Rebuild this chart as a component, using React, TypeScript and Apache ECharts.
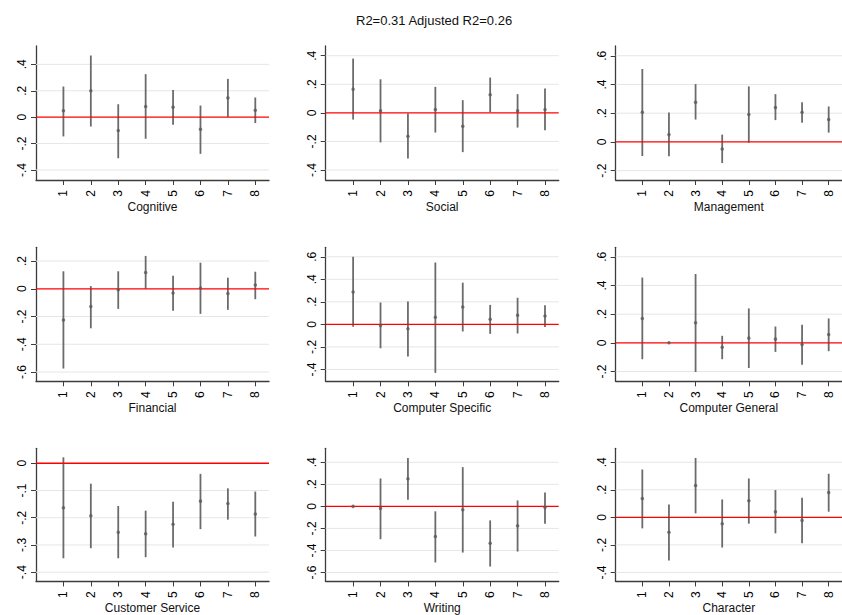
import React, { useEffect, useRef } from "react";
import * as echarts from "echarts";

const TITLE = "R2=0.31 Adjusted R2=0.26";
const CATEGORIES = [1, 2, 3, 4, 5, 6, 7, 8];
const PANEL_NAMES = [
  "Cognitive", "Social", "Management",
  "Financial", "Computer Specific", "Computer General",
  "Customer Service", "Writing", "Character",
];

const cognitiveEst = [0.048, 0.2, -0.101, 0.081, 0.076, -0.091, 0.146, 0.053];
const cognitiveLo = [-0.146, -0.071, -0.311, -0.164, -0.058, -0.278, 0.002, -0.045];
const cognitiveHi = [0.232, 0.467, 0.098, 0.326, 0.205, 0.088, 0.29, 0.149];

const socialEst = [0.166, 0.014, -0.163, 0.023, -0.093, 0.126, 0.014, 0.023];
const socialLo = [-0.047, -0.207, -0.319, -0.138, -0.275, 0.005, -0.103, -0.121];
const socialHi = [0.38, 0.235, -0.005, 0.182, 0.089, 0.247, 0.131, 0.17];

const managementEst = [0.207, 0.051, 0.277, -0.049, 0.191, 0.24, 0.207, 0.156];
const managementLo = [-0.098, -0.1, 0.156, -0.147, -0.005, 0.152, 0.133, 0.065];
const managementHi = [0.508, 0.205, 0.403, 0.051, 0.387, 0.333, 0.277, 0.247];

const financialEst = [-0.225, -0.128, -0.007, 0.118, -0.031, 0.005, -0.034, 0.027];
const financialLo = [-0.575, -0.285, -0.145, 0.0, -0.159, -0.181, -0.152, -0.075];
const financialHi = [0.126, 0.019, 0.126, 0.237, 0.094, 0.188, 0.08, 0.123];

const compSpecificEst = [0.287, -0.009, -0.039, 0.063, 0.155, 0.045, 0.081, 0.075];
const compSpecificLo = [-0.021, -0.212, -0.284, -0.43, -0.063, -0.084, -0.081, -0.024];
const compSpecificHi = [0.6, 0.194, 0.203, 0.549, 0.37, 0.173, 0.236, 0.17];

const compGeneralEst = [0.17, 0.0, 0.14, -0.03, 0.033, 0.026, -0.012, 0.058];
const compGeneralLo = [-0.114, 0.0, -0.203, -0.114, -0.175, -0.063, -0.152, -0.058];
const compGeneralHi = [0.455, 0.0, 0.48, 0.049, 0.24, 0.114, 0.126, 0.17];

const customerEst = [-0.163, -0.193, -0.253, -0.259, -0.224, -0.139, -0.148, -0.186];
const customerLo = [-0.349, -0.312, -0.349, -0.345, -0.309, -0.242, -0.207, -0.269];
const customerHi = [0.022, -0.075, -0.157, -0.174, -0.141, -0.039, -0.092, -0.104];

const writingEst = [0.0, -0.018, 0.25, -0.274, -0.03, -0.335, -0.175, -0.009];
const writingLo = [0.0, -0.298, 0.06, -0.509, -0.419, -0.546, -0.41, -0.157];
const writingHi = [0.0, 0.253, 0.44, -0.045, 0.356, -0.127, 0.054, 0.127];

const characterEst = [0.137, -0.108, 0.231, -0.046, 0.12, 0.041, -0.022, 0.181];
const characterLo = [-0.08, -0.313, 0.029, -0.219, -0.046, -0.116, -0.188, 0.041];
const characterHi = [0.347, 0.094, 0.431, 0.13, 0.282, 0.198, 0.142, 0.316];

const EST = [cognitiveEst, socialEst, managementEst, financialEst, compSpecificEst, compGeneralEst, customerEst, writingEst, characterEst];
const LO = [cognitiveLo, socialLo, managementLo, financialLo, compSpecificLo, compGeneralLo, customerLo, writingLo, characterLo];
const HI = [cognitiveHi, socialHi, managementHi, financialHi, compSpecificHi, compGeneralHi, customerHi, writingHi, characterHi];

const Y_TICKS = [
  [-0.4, -0.2, 0, 0.2, 0.4],
  [-0.4, -0.2, 0, 0.2, 0.4],
  [-0.2, 0, 0.2, 0.4, 0.6],
  [-0.6, -0.4, -0.2, 0, 0.2],
  [-0.4, -0.2, 0, 0.2, 0.4, 0.6],
  [-0.2, 0, 0.2, 0.4, 0.6],
  [-0.4, -0.3, -0.2, -0.1, 0],
  [-0.6, -0.4, -0.2, 0, 0.2, 0.4],
  [-0.4, -0.2, 0, 0.2, 0.4],
];
const Y_MIN = [-0.476, -0.47, -0.265, -0.667, -0.505, -0.268, -0.434, -0.681, -0.465];
const Y_MAX = [0.539, 0.468, 0.668, 0.299, 0.684, 0.666, 0.055, 0.527, 0.501];
const X_MIN = 0;
const X_MAX = 8.5;
const REFERENCE_LINE = 0;

const COL_LEFT = [36, 325.7, 615.7];
const ROW_TOP = [46, 247.3, 448.3];
const GRID_W = 233;
const GRID_H = 134;

const fmt = (v: number) => {
  const r = Math.round(v * 10) / 10;
  if (r === 0) return "0";
  return r.toString().replace("0.", ".");
};

export default function App() {
  const ref = useRef<HTMLDivElement>(null);
  useEffect(() => {
    document.body.style.margin = "0";
    if (!ref.current) return;
    const chart = echarts.init(ref.current, undefined, { renderer: "svg" });
    const grids: any[] = [];
    const xAxes: any[] = [];
    const yAxes: any[] = [];
    const series: any[] = [];
    const axisColor = "#3c3c3c";
    PANEL_NAMES.forEach((name, i) => {
      const r = Math.floor(i / 3);
      const c = i % 3;
      grids.push({ left: COL_LEFT[c], top: ROW_TOP[r], width: GRID_W, height: GRID_H, containLabel: false });
      xAxes.push({
        type: "value", gridIndex: i, min: X_MIN, max: X_MAX,
        name, nameLocation: "middle", nameGap: 20,
        nameTextStyle: { fontFamily: "Liberation Sans", fontSize: 12, color: "#111" },
        axisLine: { show: true, onZero: false, lineStyle: { color: axisColor, width: 1.3 } },
        axisTick: { show: true, customValues: CATEGORIES, length: 5, lineStyle: { color: axisColor, width: 1 } },
        axisLabel: { customValues: CATEGORIES, rotate: 90, margin: 10, fontFamily: "Liberation Sans", fontSize: 12, color: "#000" },
        splitLine: { show: false },
      });
      yAxes.push({
        type: "value", gridIndex: i, min: Y_MIN[i], max: Y_MAX[i],
        axisLine: { show: true, onZero: false, lineStyle: { color: axisColor, width: 1.3 } },
        axisTick: { show: true, customValues: Y_TICKS[i], length: 5, lineStyle: { color: axisColor, width: 1 } },
        axisLabel: { customValues: Y_TICKS[i], rotate: 90, margin: 8, formatter: fmt, fontFamily: "Liberation Sans", fontSize: 12, color: "#000" },
        splitLine: { show: false },
      });
      // gridlines
      series.push({
        type: "custom", xAxisIndex: i, yAxisIndex: i, z: 1, silent: true,
        data: Y_TICKS[i].filter((t) => t !== REFERENCE_LINE).map((t) => [X_MIN, t]),
        encode: { x: 0, y: 1 },
        renderItem: (params: any, api: any) => {
          const t = api.value(1);
          const p1 = api.coord([X_MIN, t]);
          const p2 = api.coord([X_MAX, t]);
          return {
            type: "line",
            shape: { x1: p1[0], y1: p1[1], x2: p2[0], y2: p2[1] },
            style: { stroke: "#e6e6e6", lineWidth: 1 },
          };
        },
      });
      // error bars
      series.push({
        type: "custom", xAxisIndex: i, yAxisIndex: i, z: 3, silent: true,
        data: CATEGORIES.map((k, j) => [k, LO[i][j], HI[i][j]]),
        encode: { x: 0, y: [1, 2] },
        renderItem: (params: any, api: any) => {
          const x = api.value(0);
          const p1 = api.coord([x, api.value(1)]);
          const p2 = api.coord([x, api.value(2)]);
          return {
            type: "line",
            shape: { x1: p1[0], y1: p1[1], x2: p2[0], y2: p2[1] },
            style: { stroke: "#6b6b6b", lineWidth: 1.8 },
          };
        },
      });
      // red reference line
      series.push({
        type: "line", xAxisIndex: i, yAxisIndex: i, z: 4, silent: true,
        symbol: "none", showSymbol: false,
        lineStyle: { color: "#ff0000", width: 1.3 },
        data: [[X_MIN, REFERENCE_LINE], [X_MAX, REFERENCE_LINE]],
      });
      // point estimates
      series.push({
        type: "scatter", xAxisIndex: i, yAxisIndex: i, z: 5, silent: true,
        symbol: "circle", symbolSize: 3.5,
        itemStyle: { color: "#5a5a5a" },
        data: CATEGORIES.map((k, j) => [k, EST[i][j]]),
      });
    });
    chart.setOption({
      animation: false,
      backgroundColor: "#ffffff",
      title: {
        text: TITLE, left: 351, top: 9,
        textStyle: { fontFamily: "Liberation Sans", fontSize: 13, fontWeight: "normal", color: "#111" },
      },
      grid: grids,
      xAxis: xAxes,
      yAxis: yAxes,
      series,
    });
    return () => chart.dispose();
  }, []);
  return <div ref={ref} style={{ width: 842, height: 615 }} />;
}
